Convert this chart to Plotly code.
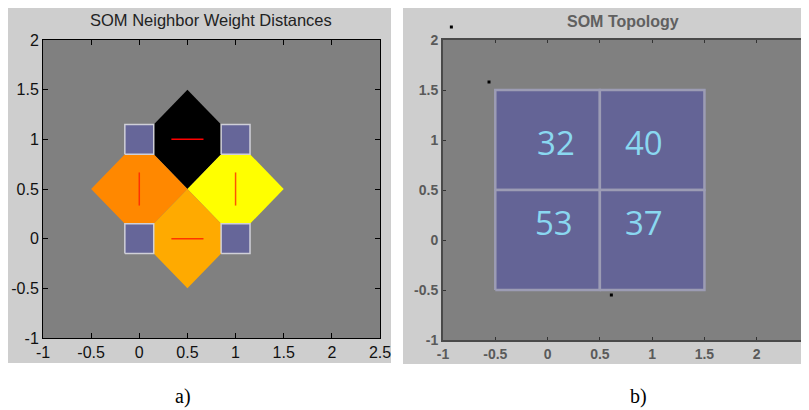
import plotly.graph_objects as go

# the page body adds an 8px margin; the figure is sized/placed to compensate
OFF = 8
W, H = 809 - OFF, 410 - OFF

# ---------------- data ----------------
# Panel a) SOM neighbour weight distances (2x2 map)
NEURON_X = [0, 1, 0, 1]
NEURON_Y = [0, 0, 1, 1]
PAIRS = [(2, 3), (0, 2), (1, 3), (0, 1)]            # neighbour pairs (neuron indices)
PAIR_COLORS = ["#000000", "#ff8800", "#ffff00", "#ffaa00"]
PAIR_LINE_COLORS = ["#ff0000", "#ff3300", "#ff5500", "#ff3300"]

# Panel b) SOM topology / hits
HIT_X = [0, 1, 0, 1]
HIT_Y = [1, 1, 0, 0]
HITS = [32, 40, 53, 37]
HIT_TEXT_X = [0.08, 0.92, 0.06, 0.92]
HIT_TEXT_Y = [0.93, 0.93, 0.13, 0.13]
DOT_X = [-0.92, -0.56, 0.61]
DOT_Y = [2.13, 1.58, -0.55]

TICKS_X = [-1, -0.5, 0, 0.5, 1, 1.5, 2, 2.5]
TICKS_X_TEXT = ["-1", "-0.5", "0", "0.5", "1", "1.5", "2", "2.5"]
TICKS_Y = [-1, -0.5, 0, 0.5, 1, 1.5, 2]
TICKS_Y_TEXT = ["-1", "-0.5", "0", "0.5", "1", "1.5", "2"]

X_RANGE = [-1, 2.5]
Y_RANGE = [-1, 2]

fig = go.Figure()

# ---------------- panel a ----------------
NS = 0.15  # half size of neuron squares
for (ia, ib), col, lcol in zip(PAIRS, PAIR_COLORS, PAIR_LINE_COLORS):
    ax, ay = NEURON_X[ia], NEURON_Y[ia]
    bx, by = NEURON_X[ib], NEURON_Y[ib]
    dx, dy = bx - ax, by - ay
    px, py = -dy, dx
    mx, my = (ax + bx) / 2, (ay + by) / 2
    pts = [
        (mx + 0.5 * px, my + 0.5 * py),
        (bx - NS * dx + NS * px, by - NS * dy + NS * py),
        (bx - NS * dx - NS * px, by - NS * dy - NS * py),
        (mx - 0.5 * px, my - 0.5 * py),
        (ax + NS * dx - NS * px, ay + NS * dy - NS * py),
        (ax + NS * dx + NS * px, ay + NS * dy + NS * py),
    ]
    xs = [p[0] for p in pts] + [pts[0][0]]
    ys = [p[1] for p in pts] + [pts[0][1]]
    fig.add_trace(go.Scatter(x=xs, y=ys, mode="lines", fill="toself",
                             fillcolor=col, line=dict(width=0, color=col),
                             hoverinfo="skip", showlegend=False,
                             xaxis="x", yaxis="y"))
    fig.add_trace(go.Scatter(x=[ax + dx / 3, ax + 2 * dx / 3],
                             y=[ay + dy / 3, ay + 2 * dy / 3],
                             mode="lines", line=dict(color=lcol, width=1.5),
                             hoverinfo="skip", showlegend=False,
                             xaxis="x", yaxis="y"))

for nx, ny in zip(NEURON_X, NEURON_Y):
    fig.add_trace(go.Scatter(
        x=[nx - NS, nx + NS, nx + NS, nx - NS, nx - NS],
        y=[ny - NS, ny - NS, ny + NS, ny + NS, ny - NS],
        mode="lines", fill="toself", fillcolor="#666699",
        line=dict(color="#d0d0d8", width=1.5),
        hoverinfo="skip", showlegend=False, xaxis="x", yaxis="y"))

# ---------------- panel b ----------------
for hx, hy in zip(HIT_X, HIT_Y):
    fig.add_trace(go.Scatter(
        x=[hx - 0.5, hx + 0.5, hx + 0.5, hx - 0.5, hx - 0.5],
        y=[hy - 0.5, hy - 0.5, hy + 0.5, hy + 0.5, hy - 0.5],
        mode="lines", fill="toself", fillcolor="#646496",
        line=dict(color="#9c9cb4", width=2.5),
        hoverinfo="skip", showlegend=False, xaxis="x2", yaxis="y2"))

fig.add_trace(go.Scatter(
    x=HIT_TEXT_X, y=HIT_TEXT_Y, mode="text", text=[str(h) for h in HITS],
    textfont=dict(family="Open Sans", size=33, color="#8ad8f0"),
    textposition="middle center", hoverinfo="skip", showlegend=False,
    xaxis="x2", yaxis="y2"))

# dots drawn on an invisible overlay axis with the same scale but a taller
# domain, so that the dot above the axes box is not hidden
fig.add_trace(go.Scatter(
    x=DOT_X, y=DOT_Y, mode="markers",
    marker=dict(symbol="square", size=3, color="#000000"),
    hoverinfo="skip", showlegend=False,
    xaxis="x3", yaxis="y3"))

# ---------------- layout ----------------
def xd(px):
    return (px - OFF) / W

def yd(py):
    return 1 - (py - OFF) / H

B_TOP, B_BOT, B_TOP_EXT = 40, 340, 12
b_scale = (B_BOT - B_TOP) / (Y_RANGE[1] - Y_RANGE[0])
Y3_RANGE = [Y_RANGE[0], Y_RANGE[1] + (B_TOP - B_TOP_EXT) / b_scale]

common_a = dict(showline=True, linecolor="#000000", linewidth=1, mirror="ticks",
                ticks="inside", ticklen=5, tickcolor="#000000", showgrid=False,
                zeroline=False, automargin=False,
                tickfont=dict(family="Liberation Sans", size=16, color="#111111"),
                fixedrange=True)
common_b = dict(showline=True, linecolor="#4a4a4a", linewidth=2, mirror="ticks",
                ticks="inside", ticklen=3, tickcolor="#333333", showgrid=False,
                zeroline=False, automargin=False,
                tickfont=dict(family="Liberation Sans", size=14, color="#5a5a5a",
                              weight="bold"),
                fixedrange=True)
hidden = dict(visible=False, showgrid=False, zeroline=False, automargin=False,
              fixedrange=True)

fig.update_layout(
    width=W, height=H,
    margin=dict(l=0, r=0, t=0, b=0, autoexpand=False),
    paper_bgcolor="#ffffff",
    plot_bgcolor="rgba(0,0,0,0)",
    showlegend=False,
    xaxis=dict(domain=[xd(43), xd(380)], range=X_RANGE, tickvals=TICKS_X,
               ticktext=TICKS_X_TEXT, anchor="y", **common_a),
    yaxis=dict(domain=[yd(338), yd(40)], range=Y_RANGE, tickvals=TICKS_Y,
               ticktext=TICKS_Y_TEXT, anchor="x", **common_a),
    xaxis2=dict(domain=[xd(443), 1.0], range=X_RANGE, tickvals=TICKS_X,
                ticktext=TICKS_X_TEXT, anchor="y2", **common_b),
    yaxis2=dict(domain=[yd(B_BOT), yd(B_TOP)], range=Y_RANGE, tickvals=TICKS_Y,
                ticktext=TICKS_Y_TEXT, anchor="x2", **common_b),
    xaxis3=dict(domain=[xd(443), 1.0], range=X_RANGE, anchor="y3", **hidden),
    yaxis3=dict(domain=[yd(B_BOT), yd(B_TOP_EXT)], range=Y3_RANGE, anchor="x3", **hidden),
    shapes=[
        dict(type="rect", xref="paper", yref="paper", layer="below",
             x0=xd(8), x1=xd(391), y0=yd(363), y1=yd(7),
             fillcolor="#cecece", line=dict(width=0)),
        dict(type="rect", xref="paper", yref="paper", layer="below",
             x0=xd(403), x1=1.0, y0=yd(364), y1=yd(7),
             fillcolor="#cecece", line=dict(width=0)),
        dict(type="rect", xref="x", yref="y", layer="below",
             x0=X_RANGE[0], x1=X_RANGE[1], y0=Y_RANGE[0], y1=Y_RANGE[1],
             fillcolor="#808080", line=dict(width=0)),
        dict(type="rect", xref="x2", yref="y2", layer="below",
             x0=X_RANGE[0], x1=X_RANGE[1], y0=Y_RANGE[0], y1=Y_RANGE[1],
             fillcolor="#808080", line=dict(width=0)),
    ],
    annotations=[
        dict(text="SOM Neighbor Weight Distances", xref="paper", yref="paper",
             x=xd(211), y=yd(20), showarrow=False, xanchor="center", yanchor="middle",
             font=dict(family="Liberation Sans", size=16.5, color="#222222")),
        dict(text="SOM Topology", xref="paper", yref="paper",
             x=xd(623), y=yd(21), showarrow=False, xanchor="center", yanchor="middle",
             font=dict(family="Liberation Sans", size=16, color="#606060", weight="bold")),
        dict(text="a)", xref="paper", yref="paper",
             x=xd(183), y=yd(396), showarrow=False, xanchor="center", yanchor="middle",
             font=dict(family="Liberation Serif", size=20, color="#000000")),
        dict(text="b)", xref="paper", yref="paper",
             x=xd(638), y=yd(396), showarrow=False, xanchor="center", yanchor="middle",
             font=dict(family="Liberation Serif", size=20, color="#000000")),
    ],
)

fig.write_html("out.html")
